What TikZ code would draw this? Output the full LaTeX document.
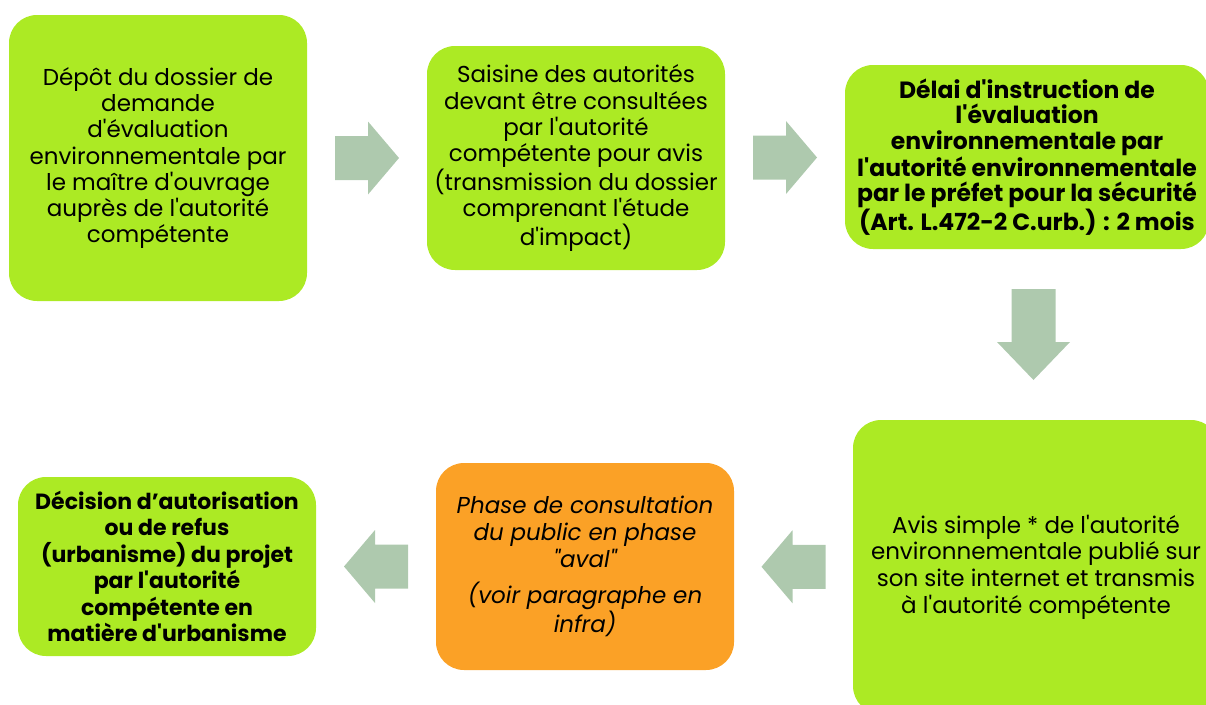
\documentclass[tikz,border=0pt]{standalone}
\usepackage{fontspec}
\newfontfamily\gothic{Poppins}
\usetikzlibrary{calc}
\definecolor{stepgreen}{RGB}{172,234,36}
\definecolor{steporange}{RGB}{251,161,38}
\definecolor{arrowgrey}{RGB}{174,201,174}
% block arrow: centre, rotation, length, head length
\newcommand{\flowarrow}[4]{\fill[arrowgrey, shift={(#1)}, rotate=#2] (-#3/2, -22) -- (#3/2-#4, -22) -- (#3/2-#4, -36.5) -- (#3/2, 0) -- (#3/2-#4, 36.5) -- (#3/2-#4, 22) -- (-#3/2, 22) -- cycle;}

\begin{document}
\begin{tikzpicture}[x=1pt, y=-1pt]
        \tikzstyle{step_box}=[fill=stepgreen, shape=rectangle, rounded corners=28pt, inner sep=0pt, align=center, font=\gothic\fontsize{23}{26.3}\selectfont];
        \tikzstyle{step_box_bold}=[step_box, font=\gothic\bfseries\fontsize{23.5}{25.3}\selectfont];
        \tikzstyle{step_box_public}=[step_box, fill=steporange, font=\gothic\itshape\fontsize{23}{27}\selectfont];
        \clip (0, 0) rectangle (1206, 704);

        % top row
        \node[step_box, minimum width=298pt, minimum height=286pt] at (158, 158) (depot) {D\'ep\^ot du dossier de\\ demande\\ d'\'evaluation\\ environnementale par\\ le ma\^itre d'ouvrage\\ aupr\`es de l'autorit\'e\\ comp\'etente};
        \node[step_box, minimum width=298pt, minimum height=224pt] at (576, 158) (saisine) {Saisine des autorit\'es\\ devant \^etre consult\'ees\\ par l'autorit\'e\\ comp\'etente pour avis\\ (transmission du dossier\\ comprenant l'\'etude\\ d'impact)};
        \node[step_box_bold, minimum width=364pt, minimum height=184pt] at (1027, 157) (delai) {D\'elai d'instruction de\\ l'\'evaluation\\ environnementale par\\ l'autorit\'e environnementale\\ par le pr\'efet pour la s\'ecurit\'e\\ (Art. L.472-2 C.urb.) : 2 mois};

        % bottom row
        \node[step_box, minimum width=366pt, minimum height=294pt, font=\gothic\fontsize{23}{26.7}\selectfont] at (1036, 567) (avis) {Avis simple * de l'autorit\'e\\ environnementale publi\'e sur\\ son site internet et transmis\\ \`a l'autorit\'e comp\'etente};
        \node[step_box_public, minimum width=298pt, minimum height=207pt] at (585, 566.5) (public) {Phase de consultation\\ du public en phase\\ "aval"\\[9pt] (voir paragraphe en\\ infra)};
        \node[step_box_bold, minimum width=298pt, minimum height=179pt, font=\gothic\bfseries\fontsize{22}{26.5}\selectfont] at (167, 566.5) (decision) {D\'ecision d’autorisation\\ ou de refus\\ (urbanisme) du projet\\ par l'autorit\'e\\ comp\'etente en\\ mati\`ere d'urbanisme};

        % arrows
        \coordinate (a1) at ($(depot.east)!0.5!(saisine.west)$);
        \coordinate (a2) at ($(saisine.east)!0.5!(delai.west)$);
        \coordinate (a3) at ($(delai.south)!0.5!(avis.north) + (2, 0)$);
        \coordinate (a4) at ($(avis.west)!0.5!(public.east)$);
        \coordinate (a5) at ($(public.west)!0.5!(decision.east)$);
        \flowarrow{a1}{0}{64}{31}
        \flowarrow{a2}{0}{64}{31}
        \flowarrow{a3}{-90}{91}{38}
        \flowarrow{a4}{180}{64}{31}
        \flowarrow{a5}{180}{64}{31}
\end{tikzpicture}
\end{document}
